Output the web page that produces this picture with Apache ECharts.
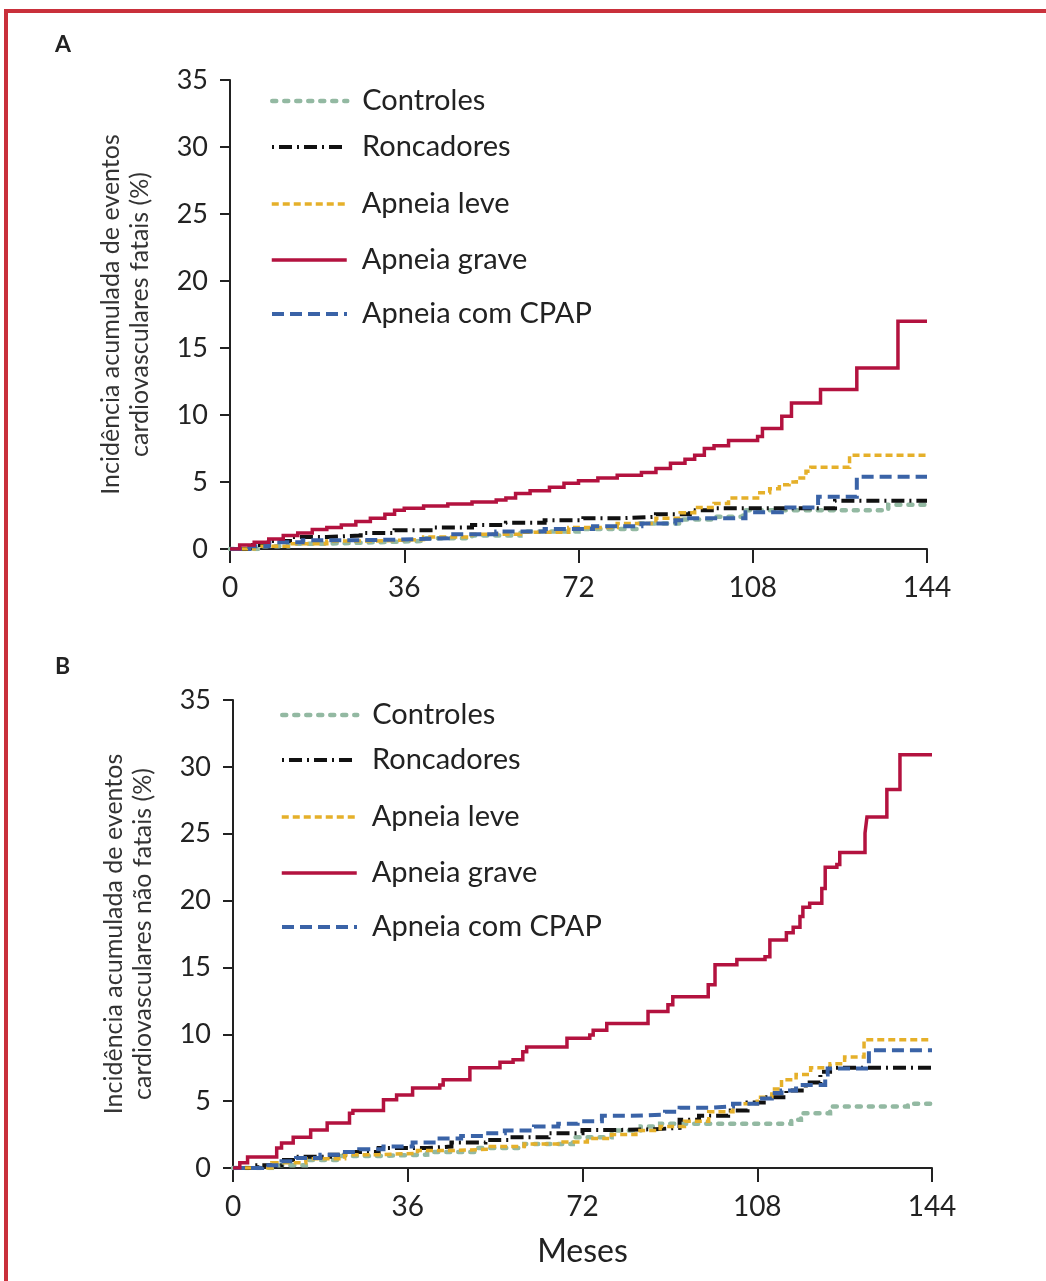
<!DOCTYPE html>
<html>
<head>
<meta charset="utf-8">
<script src="https://cdn.jsdelivr.net/npm/echarts@6/dist/echarts.min.js"></script>
<style>
  html, body { margin: 0; padding: 0; background: #fff; }
  #chart { width: 1046px; height: 1281px; }
</style>
</head>
<body>
<div id="chart"></div>
<script>
// Grupos
const seriesNames = ['Controles', 'Roncadores', 'Apneia leve', 'Apneia grave', 'Apneia com CPAP'];

// Painel A: eventos cardiovasculares fatais, [mês, %]
const fatalControles = [[0,0],[6,0.2],[12,0.4],[20,0.5],[30,0.6],[40,0.8],[50,1.0],[60,1.3],[72,1.5],[84,1.9],[93,2.2],[100,2.4],[106,2.9],[135.5,2.9],[136,3.3],[144,3.3]];
const fatalRoncadores = [[0,0],[4,0.3],[8,0.6],[13,0.9],[20,1.0],[27,1.2],[34,1.4],[42,1.6],[50,1.8],[57,1.95],[65,2.15],[73,2.3],[81,2.4],[88,2.6],[95,2.9],[100,3.05],[124,3.05],[125,3.6],[144,3.6]];
const fatalLeve = [[0,0],[5,0.2],[12,0.4],[20,0.6],[30,0.7],[40,0.9],[50,1.1],[60,1.25],[70,1.6],[80,1.9],[88,2.3],[93,2.7],[96,3.1],[100,3.4],[103,3.8],[109,4.2],[111.5,4.5],[113.5,4.8],[115.5,5.0],[117,5.3],[119,5.8],[120,6.1],[127.5,6.1],[128,7.0],[144,7.0]];
const fatalGrave = [[0,0],[2,0.3],[5,0.5],[8,0.75],[11,1.0],[14,1.2],[17,1.45],[20,1.6],[23,1.8],[26,2.05],[29,2.3],[32,2.6],[34,2.9],[36,3.05],[40,3.2],[45,3.35],[50,3.5],[55,3.65],[57,3.8],[59,4.15],[62,4.35],[66,4.6],[69,4.9],[72,5.1],[76,5.3],[80,5.5],[85,5.7],[88,6.0],[91,6.4],[94,6.7],[96,7.0],[98,7.5],[100,7.7],[103,8.1],[109,8.4],[110,9.0],[113.5,9.0],[114,9.9],[116,10.9],[121.5,10.9],[122,11.9],[129,11.9],[129.5,13.5],[137.5,13.5],[138,17.0],[144,17.0]];
const fatalCpap = [[0,0],[4,0.2],[8,0.5],[15,0.65],[25,0.7],[35,0.8],[45,1.1],[55,1.3],[65,1.5],[75,1.7],[85,1.9],[92,2.15],[94,2.3],[106,2.3],[106.5,2.75],[114,3.1],[121.5,3.9],[129,3.9],[129.5,5.4],[144,5.4]];

// Painel B: eventos cardiovasculares não fatais, [mês, %]
const naoFatalControles = [[0,0],[8,0.2],[15,0.6],[22,0.9],[30,1.0],[40,1.2],[50,1.5],[60,1.8],[70,2.3],[78,2.8],[84,3.1],[88,3.3],[112,3.3],[115,3.6],[117,4.1],[122,4.1],[123,4.6],[138,4.6],[139,4.8],[144,4.8]];
const naoFatalRoncadores = [[0,0],[5,0.2],[10,0.6],[13,0.85],[20,1.0],[23,1.2],[30,1.5],[40,1.6],[45,1.9],[52,2.1],[57,2.3],[65,2.6],[72,2.85],[80,2.9],[87,3.0],[92,3.6],[96,3.9],[102,4.3],[106,4.9],[110,5.3],[114,5.8],[118,6.4],[121,7.2],[123,7.5],[144,7.5]];
const naoFatalLeve = [[0,0],[8,0.4],[15,0.7],[23,1.0],[30,1.1],[38,1.3],[45,1.4],[53,1.6],[60,1.8],[68,1.95],[73,2.2],[78,2.5],[83,2.8],[88,3.1],[93,3.5],[98,4.2],[103,4.8],[108,5.3],[111,5.9],[113,6.6],[116,7.0],[119,7.5],[123,7.8],[126,8.3],[129.5,8.3],[130,9.6],[144,9.6]];
const naoFatalGrave = [[0,0],[1.4,0.4],[3,0.82],[9,1.5],[10,1.87],[12.4,2.3],[16,2.84],[19.4,3.37],[24,4.1],[24.7,4.3],[31,5.1],[33.7,5.46],[37,5.98],[42.6,6.2],[43.3,6.6],[48.8,7.5],[55,7.9],[57.7,8.1],[59.7,8.7],[60.5,9.05],[68.8,9.7],[73.5,9.95],[74.2,10.3],[77,10.8],[85.5,11.7],[89.6,12.2],[90.6,12.8],[97.9,13.7],[99.3,15.2],[103.8,15.6],[109.6,15.8],[110.6,17.05],[114,17.6],[115.4,18.0],[116.8,18.8],[117.4,19.5],[118.8,19.8],[121.3,20.9],[122,22.5],[124.4,22.7],[125,23.6],[130.2,25.05],[130.6,26.25],[134.7,28.3],[137.4,30.9],[144,30.9]];
const naoFatalCpap = [[0,0],[6,0.2],[10,0.5],[13,0.75],[18,1.0],[22,1.2],[26,1.4],[31,1.6],[37,1.9],[42,2.2],[47,2.4],[52,2.6],[56,2.8],[62,3.1],[67,3.3],[71,3.5],[76,3.9],[82,4.0],[89,4.2],[92,4.5],[98,4.6],[103,4.8],[108,5.2],[111,5.6],[113,5.8],[116,6.2],[121,6.2],[122,7.0],[122.5,7.45],[130,7.45],[131,8.8],[144,8.8]];

// Escalas
const monthTicks = { min: 0, max: 144, interval: 36 };
const pctTicks = { min: 0, max: 35, interval: 5 };

const FONT = 'Lato, "Noto Sans", sans-serif';

// Estilo de traço de cada grupo
const styles = {
  'Controles':       { color: '#93b9a2', width: 4.5, type: [4, 8], cap: 'round' },
  'Roncadores':      { color: '#111111', width: 4, type: [2, 5, 13, 5], cap: 'butt' },
  'Apneia leve':     { color: '#e5b02a', width: 3.5, type: [7, 4], cap: 'butt' },
  'Apneia grave':    { color: '#b3123f', width: 3.5, type: 'solid', cap: 'butt' },
  'Apneia com CPAP': { color: '#3a63a7', width: 4, type: [12, 6], cap: 'butt' }
};

const panelA = [fatalControles, fatalRoncadores, fatalLeve, fatalGrave, fatalCpap];
const panelB = [naoFatalControles, naoFatalRoncadores, naoFatalLeve, naoFatalGrave, naoFatalCpap];

function axisPair(idx, yName) {
  return {
    x: {
      type: 'value', gridIndex: idx, min: monthTicks.min, max: monthTicks.max, interval: monthTicks.interval,
      axisLine: { lineStyle: { color: '#222', width: 2 } },
      axisTick: { length: 14, lineStyle: { color: '#222', width: 2 } },
      splitLine: { show: false },
      axisLabel: { fontFamily: FONT, fontSize: 28, color: '#222', margin: 25 },
      name: idx === 1 ? 'Meses' : '', nameLocation: 'middle', nameGap: 68,
      nameTextStyle: { fontFamily: FONT, fontSize: 32, color: '#222' }
    },
    y: {
      type: 'value', gridIndex: idx, min: pctTicks.min, max: pctTicks.max, interval: pctTicks.interval,
      axisLine: { show: true, lineStyle: { color: '#222', width: 2 } },
      axisTick: { show: true, length: 10, lineStyle: { color: '#222', width: 2 } },
      splitLine: { show: false },
      axisLabel: { fontFamily: FONT, fontSize: 27, color: '#222', margin: 22 },
      name: yName, nameLocation: 'middle', nameGap: 76, nameRotate: 90,
      nameTextStyle: { fontFamily: FONT, fontSize: 25, color: '#333', lineHeight: 29, align: 'center' }
    }
  };
}

const axA = axisPair(0, 'Incidência acumulada de eventos\ncardiovasculares fatais (%)');
const axB = axisPair(1, 'Incidência acumulada de eventos\ncardiovasculares não fatais (%)');

const drawOrder = [0, 1, 2, 4, 3];
const series = [];
[panelA, panelB].forEach((panel, p) => {
  drawOrder.forEach((i) => {
    const name = seriesNames[i];
    const s = styles[name];
    series.push({
      name: name, type: 'line', step: 'end', xAxisIndex: p, yAxisIndex: p,
      data: panel[i], symbol: 'none', silent: true, animation: false,
      z: name === 'Apneia grave' ? 5 : 3,
      lineStyle: { color: s.color, width: s.width, type: s.type, cap: s.cap, join: 'miter' },
      itemStyle: { color: s.color }
    });
  });
});

// Uma legenda por linha, para posicionar cada entrada
const legendRowsA = [101, 147, 204, 260, 314];
const legendRowsB = [715, 760, 817, 873, 927];
function legendsFor(rows, left) {
  return seriesNames.map((name, i) => {
    const s = styles[name];
    return {
      data: [name], left: left, top: rows[i] - 16, padding: 0,
      orient: 'vertical', selectedMode: false,
      itemWidth: 75, itemHeight: 12,
      lineStyle: { color: s.color, width: s.width, type: s.type, cap: s.cap },
      itemStyle: { opacity: 0 },
      textStyle: { fontFamily: FONT, fontSize: 29, color: '#222', padding: [0, 0, 0, 10], lineHeight: 32 }
    };
  });
}

const option = {
  backgroundColor: '#fff',
  animation: false,
  grid: [
    { left: 230, top: 80, width: 697, height: 469 },
    { left: 233, top: 700, width: 699, height: 468 }
  ],
  xAxis: [axA.x, axB.x],
  yAxis: [axA.y, axB.y],
  legend: legendsFor(legendRowsA, 270).concat(legendsFor(legendRowsB, 280)),
  series: series,
  graphic: [
    { type: 'rect', shape: { x: 6, y: 11, width: 1200, height: 1400 },
      style: { fill: 'none', stroke: '#c9303b', lineWidth: 4 }, silent: true },
    { type: 'text', left: 55, top: 33,
      style: { text: 'A', font: 'bold 23px ' + FONT, fill: '#222' } },
    { type: 'text', left: 55, top: 655,
      style: { text: 'B', font: 'bold 23px ' + FONT, fill: '#222' } }
  ]
};

const chart = echarts.init(document.getElementById('chart'), null, { renderer: 'canvas' });
chart.setOption(option);
</script>
</body>
</html>
